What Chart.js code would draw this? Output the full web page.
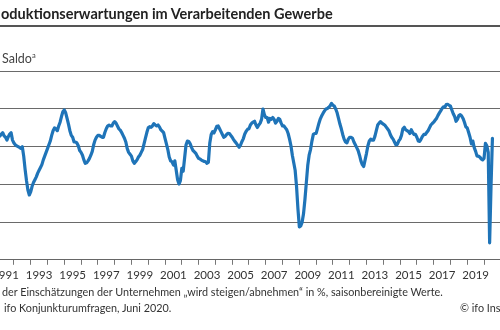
<!DOCTYPE html>
<html><head><meta charset="utf-8">
<script src="https://cdn.jsdelivr.net/npm/chart.js@4"></script>
<style>
html,body{margin:0;padding:0;background:#fff;}
body{width:500px;height:330px;overflow:hidden;position:relative;font-family:Lato,"Open Sans",sans-serif;color:#333;}
.t{position:absolute;white-space:nowrap;line-height:1;}
.pre{position:absolute;right:calc(100% + 6px);top:0;white-space:pre;}
#chart{position:absolute;left:0;top:0;}
</style></head><body>
<canvas id="chart" width="500" height="330"></canvas>
<div class="t" style="left:1px;top:7px;font-size:14.5px;font-weight:bold;color:#222;"><span class="pre">Pr</span>oduktionserwartungen im Verarbeitenden Gewerbe</div>
<div style="position:absolute;left:0;top:25px;width:500px;height:2px;background:#555"></div>
<div class="t" style="left:2px;top:52px;font-size:12.5px;color:#444">Saldo<sup style="font-size:7.5px;vertical-align:5px">a</sup></div>
<div class="t" style="left:2px;top:287px;font-size:10.8px;color:#333"><span class="pre">ᵃ Saldo</span>der Einschätzungen der Unternehmen „wird steigen/abnehmen“ in %, saisonbereinigte Werte.</div>
<div class="t" style="left:4px;top:303px;font-size:10.8px;color:#333"><span class="pre">Quelle:</span>ifo Konjunkturumfragen, Juni 2020.</div>
<div class="t" style="left:460px;top:303px;font-size:10.8px;color:#333">© ifo Institut</div>
<script>
const years = [1991,1992,1993,1994,1995,1996,1997,1998,1999,2000,2001,2002,2003,2004,2005,2006,2007,2008,2009,2010,2011,2012,2013,2014,2015,2016,2017,2018,2019,2020];
const tickLabels = [1991,1993,1995,1997,1999,2001,2003,2005,2007,2009,2011,2013,2015,2017,2019];
// monthly Saldo values (Jan..Dec), 2020 until June
const v1991 = [5, 5.7, 6.7, 7.4, 5.7, 5, 3.5, 5.3, 6.7, 7.4, 3.5, 2];
const v1992 = [1, 0.4, 0, -0.4, -0.9, 0, -5, -12, -18, -23, -25.6, -24];
const v1993 = [-21, -19, -17.5, -16, -14, -12.5, -11, -9.5, -7, -5, -3, -1];
const v1994 = [1, 3, 6, 8.5, 10, 9.5, 8.5, 11, 13, 16, 18.5, 19.5];
const v1995 = [18, 15, 12, 8.5, 6, 5, 2.5, 2.5, 2, 0.5, -2, -3];
const v1996 = [-4.5, -7, -8.8, -8.5, -7.5, -6.2, -4.5, -2.5, 1, 3.5, 5, 6];
const v1997 = [6, 5.5, 5, 5, 7.5, 9.5, 11, 11.5, 11, 11, 12.5, 13.3];
const v1998 = [12.5, 11, 9.5, 8.8, 7.5, 6, 4.5, 2.5, -1, -3, -4, -5];
const v1999 = [-7.5, -8.8, -8, -7, -5.5, -4.5, -3, -1.5, 1.5, 4.5, 7.5, 10];
const v2000 = [10.6, 10.3, 11, 12.2, 11.5, 11, 11.5, 10.5, 9, 8.3, 7.5, 4.4];
const v2001 = [1.5, -1.5, -5.5, -7.5, -8, -9.7, -7.5, -12.5, -17.5, -19.8, -18, -11.5];
const v2002 = [-13, -6, 0.9, 3, 2.8, 1.5, -0.5, -2, -2.7, -3.5, -5, -6.2];
const v2003 = [-6.5, -7.1, -7.5, -7.8, -8, -8.8, -8.2, 2, 6.5, 8, 7.3, 9];
const v2004 = [10.8, 11, 9.5, 8, 6.5, 5, 5.5, 6.5, 7.1, 7, 6, 5];
const v2005 = [3.8, 2.7, 1.8, 0.7, -0.3, 0.9, 2.8, 4.3, 6.7, 8.2, 9.2, 9.5];
const v2006 = [11.5, 12.5, 13, 13.5, 11.5, 10.2, 11.5, 12.5, 14.5, 20, 17, 15.5];
const v2007 = [15.5, 13, 15, 14.5, 15.5, 14.5, 12.5, 13.5, 15, 14.5, 12.5, 11];
const v2008 = [11, 10, 9, 7, 4, 0.5, -4.5, -8.5, -12.5, -21, -33, -42.5];
const v2009 = [-42, -40, -35.5, -28, -19, -10, -4.5, -1.5, 3, 6.5, 7, 7.1];
const v2010 = [9.7, 12.5, 14.8, 16.4, 17.8, 19, 20, 20.3, 20.9, 21.7, 23, 22];
const v2011 = [21.5, 20, 18, 15, 12, 9.5, 6.5, 4, 2.5, 2, 4, 5];
const v2012 = [5, 4.5, 2.5, 1, -0.5, -2, -4.5, -7.5, -9.5, -10.5, -7, -3.5];
const v2013 = [0.5, 3, 4, 3.5, 3.5, 5.5, 8.5, 11.5, 12.5, 13.3, 12.5, 12];
const v2014 = [11.5, 10.5, 9.5, 8.5, 6.5, 5, 4, 2.5, 1, 1.2, 3, 4];
const v2015 = [6, 9.5, 10.3, 9, 8.5, 8, 7, 9, 7.5, 6.5, 6.5, 5];
const v2016 = [3, 2.8, 4, 5.5, 6.5, 6.5, 7.5, 8.5, 10, 11.5, 12.3, 13];
const v2017 = [14, 15, 16.5, 17.8, 19, 20.3, 21.2, 21, 22.3, 22.5, 22, 21.5];
const v2018 = [19.5, 17.5, 16, 13.5, 14.5, 16.5, 17, 16.3, 15, 13, 10.5, 10];
const v2019 = [7.5, 5, 1.5, 3, -0.5, -2.5, -5, -5, -5.5, -6.5, -7, -6.2];
const v2020 = [1.8, 0.5, -3, -51, -21, 4.4];
const yearValues = [v1991,v1992,v1993,v1994,v1995,v1996,v1997,v1998,v1999,v2000,v2001,v2002,v2003,v2004,v2005,v2006,v2007,v2008,v2009,v2010,v2011,v2012,v2013,v2014,v2015,v2016,v2017,v2018,v2019,v2020];

const points = [];
years.forEach((yr, i) => {
  yearValues[i].forEach((val, m) => points.push({x: yr + (m + 1) / 12, y: val}));
});

const X_MIN = 1991.1715, X_MAX = 2020.951;

new Chart(document.getElementById('chart'), {
  type: 'line',
  data: { datasets: [{
    data: points,
    borderColor: '#1f74b8',
    borderWidth: 3.2,
    pointRadius: 0,
    tension: 0,
    borderJoinStyle: 'round',
    borderCapStyle: 'round'
  }]},
  options: {
    responsive: false,
    animation: false,
    devicePixelRatio: 1,
    layout: { padding: { top: 71.3, left: 0, right: 0, bottom: 0 }, autoPadding: false },
    plugins: { legend: { display: false }, tooltip: { enabled: false } },
    scales: {
      x: {
        type: 'linear', min: X_MIN, max: X_MAX,
        afterBuildTicks: s => { s.ticks = years.map(v => ({ value: v })); },
        ticks: {
          autoSkip: false, maxRotation: 0, minRotation: 0, includeBounds: false,
          labelOffset: 8.4, padding: 4,
          font: { family: 'Lato', size: 11.5 }, color: '#333',
          callback: v => tickLabels.includes(v) ? String(v) : ''
        },
        grid: { drawOnChartArea: false, drawTicks: true, tickLength: 5, tickColor: '#777', color: '#777' },
        border: { display: true, color: '#666', width: 1 },
        afterFit: s => { s.height = 330 - 259.8; s.paddingLeft = 0; s.paddingRight = 0; }
      },
      y: {
        min: -60, max: 40,
        ticks: { display: false, stepSize: 20 },
        grid: { color: '#6a6a6a', lineWidth: 1, drawTicks: false },
        border: { display: false },
        afterFit: s => { s.width = 0; s.paddingTop = 0; s.paddingBottom = 0; }
      }
    }
  }
});
</script>
</body></html>
